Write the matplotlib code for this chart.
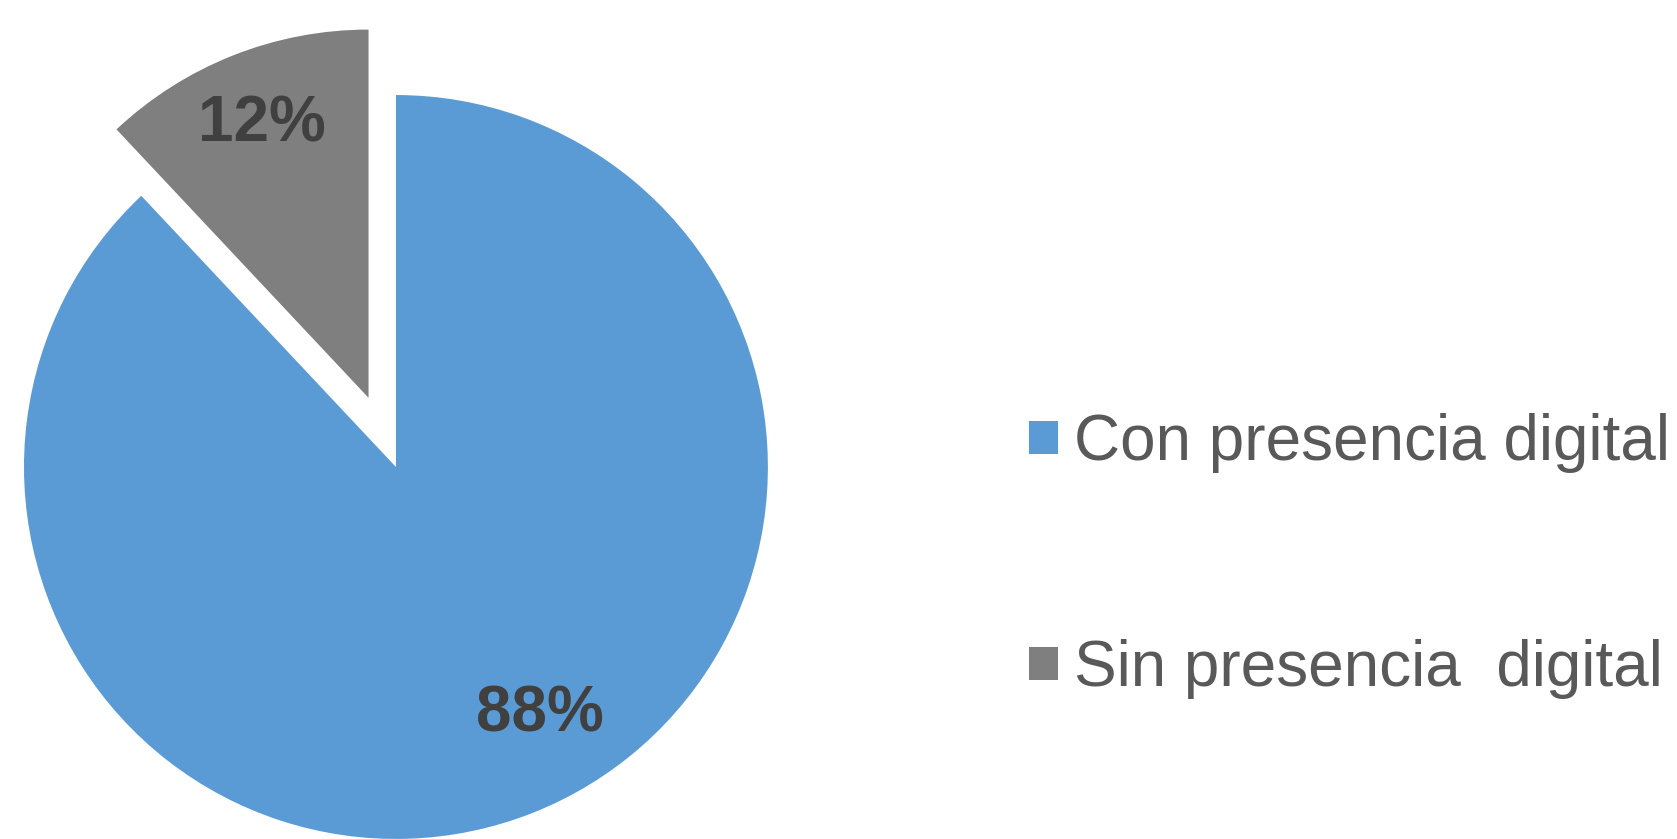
import matplotlib.pyplot as plt

categorias = ['Con presencia digital', 'Sin presencia  digital']
porcentajes = [88, 12]
colores = ['#5B9BD5', '#7F7F7F']
separacion = [0, 0.2]
# posicion (linea base) de cada etiqueta de porcentaje
pos_etiquetas = [(0.387, -0.712), (-0.360, 0.874)]

fig = plt.figure(figsize=(16.77, 8.39), dpi=100)
ax = fig.add_axes([0.0143, 0.0, 0.4436, 0.8868])

wedges, textos, pct = ax.pie(porcentajes, colors=colores, explode=separacion,
                             startangle=90, counterclock=False,
                             autopct='%1.0f%%', pctdistance=0.8,
                             wedgeprops=dict(linewidth=0))
wedges[1].set_radius(0.99)
for t, p in zip(pct, pos_etiquetas):
    t.set_fontfamily('Liberation Sans')
    t.set_fontweight('bold')
    t.set_fontsize(46)
    t.set_color('#404040')
    t.set_position(p)
    t.set_va('baseline')

ax.set_xlim(-1, 1)
ax.set_ylim(-1, 1)
ax.set_aspect('equal')
ax.axis('off')

leg = fig.legend(wedges, categorias, loc='center left', bbox_to_anchor=(0.6136, 0.337),
                 frameon=False, borderpad=0, borderaxespad=0,
                 handlelength=0.45, handleheight=0.42, handletextpad=0.25,
                 labelspacing=2.6,
                 prop={'family': 'Liberation Sans', 'size': 46})
for t in leg.get_texts():
    t.set_color('#595959')

plt.savefig('out.png', dpi=100)
